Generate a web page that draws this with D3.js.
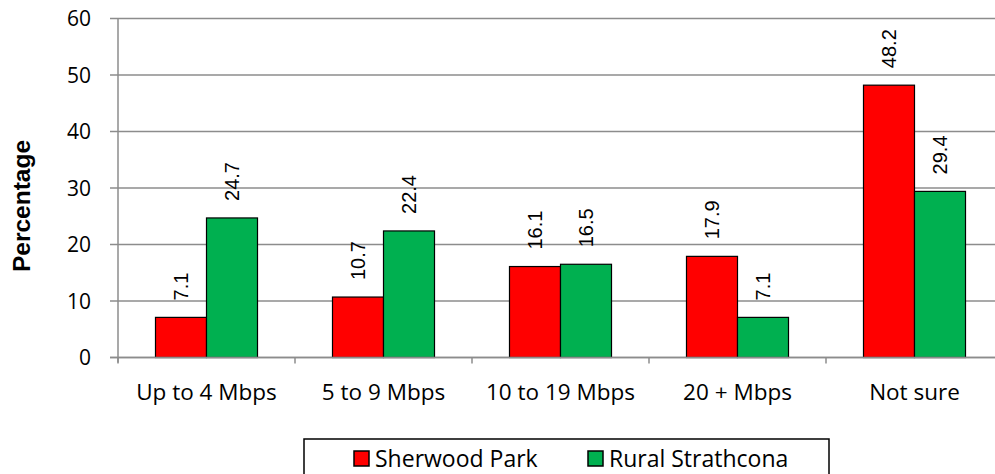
<!DOCTYPE html>
<html>
<head>
<meta charset="utf-8">
<script src="https://cdn.jsdelivr.net/npm/d3@7"></script>
<style>
  html, body { margin: 0; padding: 0; background: #fff; }
  svg { display: block; }
</style>
</head>
<body>
<div id="chart"></div>
<script>
// data
const categories = ["Up to 4 Mbps", "5 to 9 Mbps", "10 to 19 Mbps", "20 + Mbps", "Not sure"];
const seriesNames = ["Sherwood Park", "Rural Strathcona"];
const sherwoodPark = [7.1, 10.7, 16.1, 17.9, 48.2];
const ruralStrathcona = [24.7, 22.4, 16.5, 7.1, 29.4];
const yTicks = [0, 10, 20, 30, 40, 50, 60];
const colors = ["#ff0000", "#00b050"];

const width = 995, height = 474;
const plot = { left: 118, right: 1003, top: 18.5, bottom: 357.5 };

const svg = d3.select("#chart").append("svg")
  .attr("width", width)
  .attr("height", height);

const x = d3.scaleBand().domain(categories).range([plot.left, plot.right]).padding(0);
const xSub = d3.scaleBand().domain(seriesNames).range([0, x.bandwidth()]).paddingInner(0).paddingOuter(0.735);
const y = d3.scaleLinear().domain([0, 60]).range([plot.bottom, plot.top]);

// gridlines + y ticks
svg.append("g")
  .selectAll("line")
  .data(yTicks)
  .enter()
  .append("line")
  .attr("x1", plot.left - 8)
  .attr("x2", width)
  .attr("y1", d => y(d))
  .attr("y2", d => y(d))
  .attr("stroke", "#8c8c8c")
  .attr("stroke-width", 1.5);

svg.append("g")
  .selectAll("text")
  .data(yTicks)
  .enter()
  .append("text")
  .attr("x", 91)
  .attr("y", d => y(d))
  .attr("dy", "0.36em")
  .attr("text-anchor", "end")
  .style("font-family", "'Open Sans', sans-serif")
  .style("font-size", "21px")
  .attr("fill", "#000")
  .text(d => d);

// y axis line
svg.append("line")
  .attr("x1", plot.left).attr("x2", plot.left)
  .attr("y1", plot.top).attr("y2", plot.bottom + 5)
  .attr("stroke", "#8c8c8c")
  .attr("stroke-width", 1.5);

// x category ticks
const boundaries = categories.map(c => x(c)).concat([plot.right]);
svg.append("g")
  .selectAll("line")
  .data(boundaries)
  .enter()
  .append("line")
  .attr("x1", d => d).attr("x2", d => d)
  .attr("y1", plot.bottom).attr("y2", plot.bottom + 6)
  .attr("stroke", "#8c8c8c")
  .attr("stroke-width", 1.5);

// bars
const rows = categories.map((c, i) => ({ cat: c, values: [sherwoodPark[i], ruralStrathcona[i]] }));

const groups = svg.append("g")
  .selectAll("g")
  .data(rows)
  .enter()
  .append("g")
  .attr("transform", d => `translate(${x(d.cat)},0)`);

groups.selectAll("rect")
  .data(d => d.values.map((v, j) => ({ name: seriesNames[j], value: v, j })))
  .enter()
  .append("rect")
  .attr("x", d => xSub(d.name))
  .attr("y", d => y(d.value))
  .attr("width", xSub.bandwidth())
  .attr("height", d => y(0) - y(d.value))
  .attr("fill", d => colors[d.j])
  .attr("stroke", "#000")
  .attr("stroke-width", 1.2);

// rotated value labels
groups.selectAll("text")
  .data(d => d.values.map((v, j) => ({ name: seriesNames[j], value: v, j })))
  .enter()
  .append("text")
  .attr("transform", d => {
    const cx = xSub(d.name) + xSub.bandwidth() / 2;
    const cy = y(d.value) - 17;
    return `translate(${cx},${cy}) rotate(-90)`;
  })
  .attr("dy", "0.36em")
  .attr("text-anchor", "start")
  .style("font-family", "Arial, 'Liberation Sans', sans-serif")
  .style("font-size", "20px")
  .text(d => d.value.toFixed(1));

// x axis line (drawn over bar bottoms)
svg.append("line")
  .attr("x1", plot.left - 8).attr("x2", width)
  .attr("y1", plot.bottom).attr("y2", plot.bottom)
  .attr("stroke", "#8c8c8c")
  .attr("stroke-width", 1.5);

// category labels
svg.append("g")
  .selectAll("text")
  .data(categories)
  .enter()
  .append("text")
  .attr("x", d => x(d) + x.bandwidth() / 2)
  .attr("y", 400)
  .attr("text-anchor", "middle")
  .style("font-family", "'Open Sans', sans-serif")
  .style("font-size", "22.5px")
  .text(d => d);

// y axis title
svg.append("text")
  .attr("transform", "translate(30,206) rotate(-90)")
  .attr("text-anchor", "middle")
  .style("font-family", "Arial, 'Liberation Sans', sans-serif")
  .style("font-weight", "bold")
  .style("font-size", "24.5px")
  .text("Percentage");

// legend
const legend = svg.append("g");
legend.append("rect")
  .attr("x", 304).attr("y", 439)
  .attr("width", 525).attr("height", 60)
  .attr("fill", "#fff")
  .attr("stroke", "#000")
  .attr("stroke-width", 1.5);

const legendX = [354, 588];
const items = legend.selectAll("g")
  .data(seriesNames)
  .enter()
  .append("g")
  .attr("transform", (d, i) => `translate(${legendX[i]},451)`);

items.append("rect")
  .attr("width", 15).attr("height", 15)
  .attr("fill", (d, i) => colors[i])
  .attr("stroke", "#000")
  .attr("stroke-width", 1.5);

items.append("text")
  .attr("x", 21)
  .attr("y", 7.5)
  .attr("dy", "0.36em")
  .style("font-family", "'Open Sans', sans-serif")
  .style("font-size", "23px")
  .text(d => d);
</script>
</body>
</html>
